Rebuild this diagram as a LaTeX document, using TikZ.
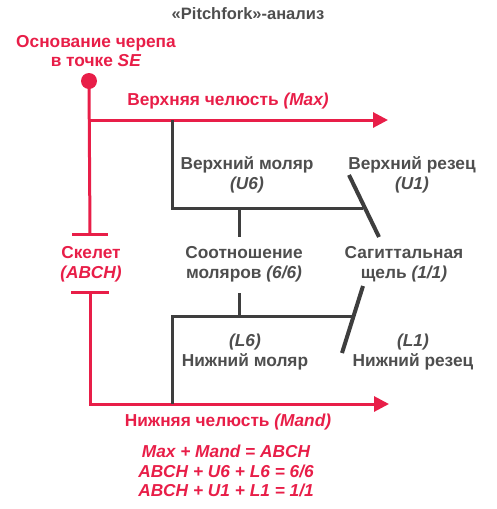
\documentclass[tikz,border=0pt]{standalone}
\usepackage{fontspec}
\setmainfont{Liberation Sans}
\usetikzlibrary{arrows.meta}
\usetikzlibrary{positioning}
\definecolor{jawred}{RGB}{232,30,72}
\definecolor{toothgray}{RGB}{62,62,62}
\definecolor{textgray}{RGB}{78,78,78}

\tikzset{
  redline/.style={line width=3pt, jawred},
  redarrow/.style={redline, -{Triangle[length=15pt,width=15pt]}},
  grayline/.style={line width=3pt, toothgray},
  slash/.style={line width=4pt, toothgray},
  redlab/.style={font=\fontsize{17.3}{19.8}\selectfont\bfseries, text=jawred, align=center, inner sep=0pt},
  graylab/.style={font=\fontsize{17.3}{19.8}\selectfont\bfseries, text=textgray, align=center, inner sep=0pt}
}

\begin{document}
\begin{tikzpicture}[x=1pt, y=-1pt]
\useasboundingbox (0,0) rectangle (497,509);

%---------------------------------------
% Title
%---------------------------------------
\node[graylab, font=\fontsize{16.5}{19.8}\selectfont\bfseries] (title) at (248,14) {«Pitchfork»-анализ};

%---------------------------------------
% Skull base and skeleton (red)
%---------------------------------------
\node[redlab] (base) at (96,51) {Основание черепа\\в точке \textit{SE}};
\node[circle, fill=jawred, minimum size=16pt, inner sep=0pt] (se) at (89,81) {};

\coordinate (maxL) at (90,120);
\coordinate (maxR) at (388,120);
\coordinate (skTop) at (90,234);
\coordinate (skBot) at (90,292);
\coordinate (mandR) at (389,404);

\draw[redline] (se.center) -- (skTop);
\draw[redline] ([xshift=-18]skTop) -- ([xshift=18]skTop);
\draw[redline] ([xshift=-19]skBot) -- ([xshift=19]skBot);
\draw[redarrow] (maxL) -- (maxR);
\draw[redarrow] (skBot) |- (mandR);

\node[redlab] (maxlab) at (228,101) {Верхняя челюсть \textit{(Max)}};
\node[redlab] (skel) at (91,264) {Скелет\\\textit{(ABCH)}};
\node[redlab] (mandlab) at (228,422) {Нижняя челюсть \textit{(Mand)}};

%---------------------------------------
% Upper teeth (gray)
%---------------------------------------
\coordinate (u6top) at (172,120);
\coordinate (u1joint) at (363,208);
\coordinate (u6stub) at (239,208);
\draw[grayline] (u6top) |- (u1joint);
\draw[grayline] (u6stub) -- ++(0,29);
\draw[slash] (349,175) -- (379,237);

\node[graylab] (u6lab) at (247,175) {Верхний моляр\\\textit{(U6)}};
\node[graylab] (u1lab) at (412,175) {Верхний резец\\\textit{(U1)}};

%---------------------------------------
% Relations in the middle
%---------------------------------------
\node[graylab] (ratio) at (244,264) {Соотношение\\моляров \textit{(6/6)}};
\node[graylab] (sag) at (404,264) {Сагиттальная\\щель \textit{(1/1)}};

%---------------------------------------
% Lower teeth (gray)
%---------------------------------------
\coordinate (l6stub) at (239,316);
\coordinate (l1joint) at (352,316);
\coordinate (l6bot) at (172,404);
\draw[grayline] (l6stub) -- ++(0,-23);
\draw[grayline] (l1joint) -| (l6bot);
\draw[slash] (363,286) -- (342,353);

\node[graylab] (l6lab) at (245,352) {\textit{(L6)}\\Нижний моляр};
\node[graylab] (l1lab) at (413,352) {\textit{(L1)}\\Нижний резец};

%---------------------------------------
% Equations
%---------------------------------------
\node[redlab, font=\fontsize{17.3}{19.8}\selectfont\bfseries\itshape] (eqs) at (226,471)
  {Max + Mand = ABCH\\ABCH + U6 + L6 = 6/6\\ABCH + U1 + L1 = 1/1};

\end{tikzpicture}
\end{document}
